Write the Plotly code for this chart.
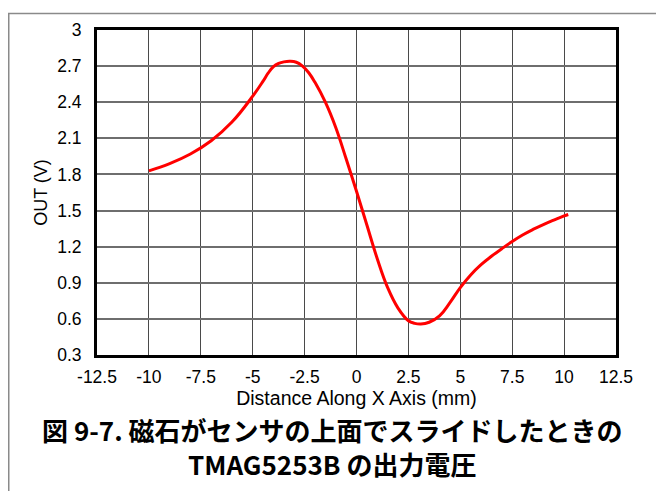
import plotly.graph_objects as go

# Data
distance_mm = [-10, -9, -8, -7, -6, -5, -4.5, -4.25, -4, -3.75, -3.5, -3.2, -2.9, -2.6, -2.3,
               -2, -1.5, -1, -0.5, 0, 0.5, 1, 1.5, 2, 2.5, 2.8, 3.1, 3.5, 4, 4.5,
               5, 5.5, 6, 6.5, 7, 7.5, 8, 8.5, 9, 9.5, 10, 10.2]
out_v = [1.83, 1.89, 1.97, 2.08, 2.235, 2.45, 2.575, 2.643, 2.695, 2.722, 2.735, 2.74, 2.732, 2.70, 2.645,
         2.565, 2.40, 2.19, 1.93, 1.66, 1.38, 1.10, 0.86, 0.69, 0.585, 0.563, 0.557, 0.572, 0.625, 0.735,
         0.86, 0.965, 1.05, 1.12, 1.183, 1.243, 1.297, 1.343, 1.384, 1.42, 1.455, 1.467]

x_ticks = [-12.5, -10, -7.5, -5, -2.5, 0, 2.5, 5, 7.5, 10, 12.5]
x_ticklabels = ["-12.5", "-10", "-7.5", "-5", "-2.5", "0", "2.5", "5", "7.5", "10", "12.5"]
y_ticks = [0.3, 0.6, 0.9, 1.2, 1.5, 1.8, 2.1, 2.4, 2.7, 3.0]
y_ticklabels = ["0.3", "0.6", "0.9", "1.2", "1.5", "1.8", "2.1", "2.4", "2.7", "3"]

x_title = "Distance Along X Axis (mm)"
y_title = "OUT (V)"
caption_1 = "図 9-7. 磁石がセンサの上面でスライドしたときの"
caption_2 = "TMAG5253B の出力電圧"

# page is rendered with an 8px body margin
OFF = 8
L, T, PW, PH = 97 - OFF, 22 - OFF, 519, 333

def px(x):
    return (x - 97) / PW

def py(y):
    return (355 - y) / PH

fig = go.Figure()
fig.add_trace(go.Scatter(
    x=distance_mm, y=out_v, mode="lines",
    line=dict(color="#ff0000", width=3, shape="spline", smoothing=1.2),
    showlegend=False, hoverinfo="skip",
))

font_main = "Liberation Sans"
cjk = "Noto Sans CJK JP"

fig.update_layout(
    width=664, height=491,
    margin=dict(l=L, r=664 - L - PW, t=T, b=491 - T - PH, pad=0),
    paper_bgcolor="white", plot_bgcolor="white",
    font=dict(family=font_main, color="black", size=17),
    xaxis=dict(
        range=[-12.5, 12.5], tickvals=x_ticks, ticktext=x_ticklabels,
        showgrid=True, gridcolor="#4a4a4a", gridwidth=1.2,
        showline=True, linecolor="black", linewidth=3, mirror=True,
        ticks="", zeroline=False, ticklabelstandoff=4,
        tickfont=dict(family=font_main, size=17.5),
        title=dict(text=x_title, font=dict(family=font_main, size=19.5), standoff=0),
    ),
    yaxis=dict(
        range=[0.3, 3.0], tickvals=y_ticks, ticktext=y_ticklabels,
        showgrid=True, gridcolor="#6e6e6e", gridwidth=1.5,
        showline=True, linecolor="black", linewidth=3, mirror=True,
        ticks="", zeroline=False, ticklabelstandoff=9,
        tickfont=dict(family=font_main, size=17.5),
        title=dict(text=y_title, font=dict(family=font_main, size=18), standoff=5),
    ),
    annotations=[
        dict(text="<b>" + caption_1 + "<br>" + caption_2 + "</b>", xref="paper", yref="paper",
             x=px(332), y=py(449), xanchor="center", yanchor="middle", align="center",
             showarrow=False, font=dict(family=cjk, size=26, color="black")),
    ],
    shapes=[
        dict(type="line", xref="paper", yref="paper",
             x0=px(0), x1=px(700), y0=py(5), y1=py(5),
             line=dict(color="#8a8a8a", width=1.5)),
        dict(type="line", xref="paper", yref="paper",
             x0=px(OFF + 0.75), x1=px(OFF + 0.75), y0=py(5), y1=py(520),
             line=dict(color="#8a8a8a", width=1.5)),
    ],
)

fig.write_html("out.html")
